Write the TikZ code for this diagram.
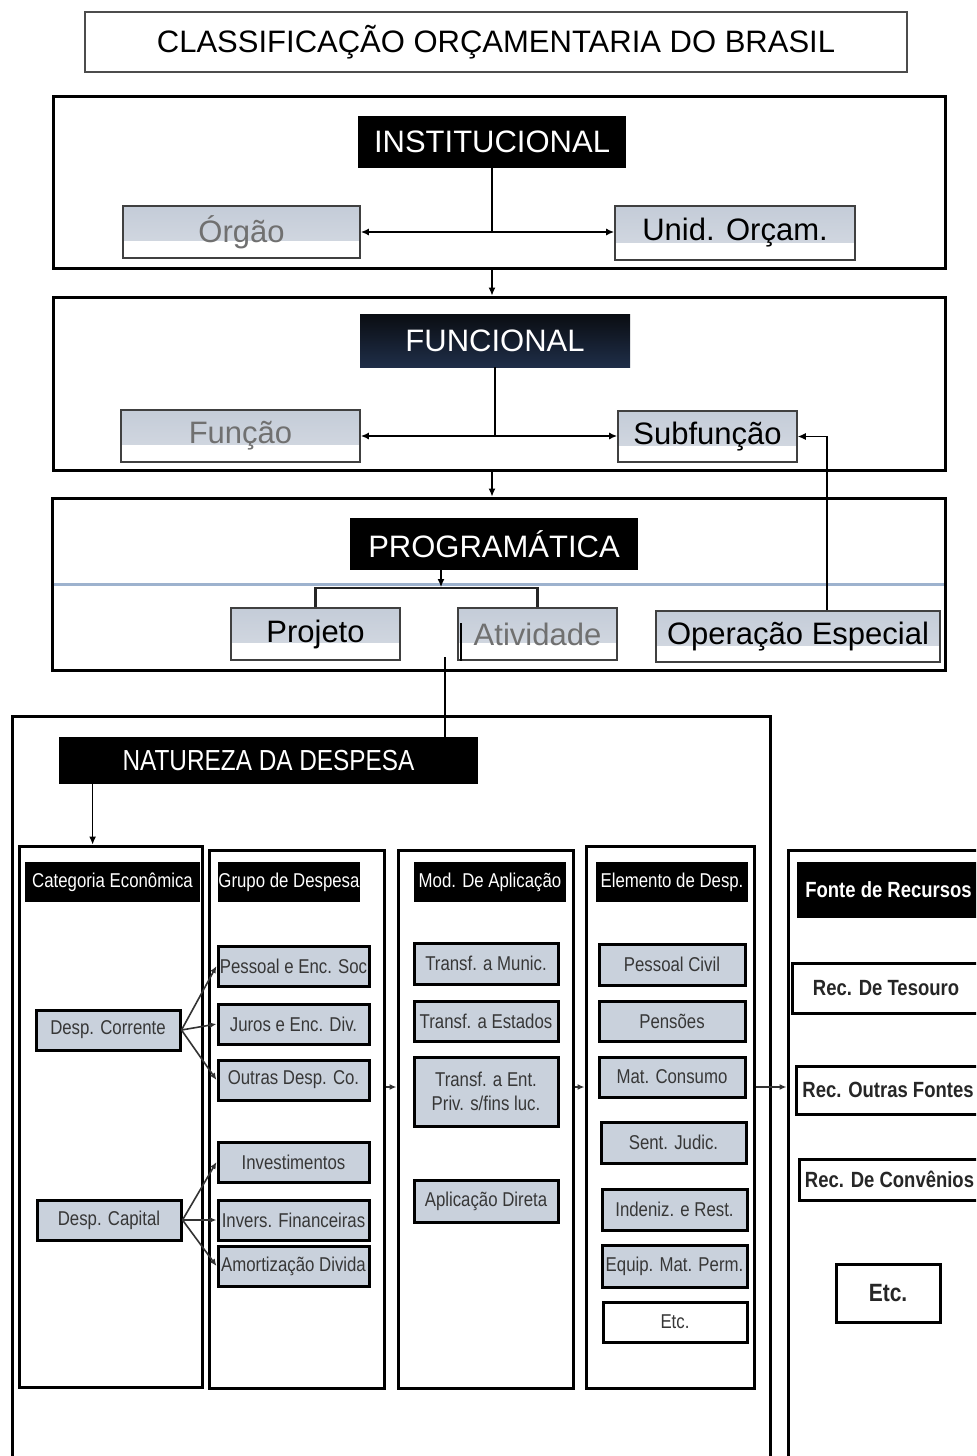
\documentclass[tikz,border=0pt]{standalone}
\usepackage{fontspec}
\setmainfont{Liberation Sans}
\newfontfamily\nf[FakeStretch=0.84]{Liberation Sans}
\usetikzlibrary{arrows.meta,calc}
\definecolor{itemfill}{RGB}{201,209,220}
\definecolor{tfillA}{RGB}{196,204,216}
\definecolor{tfillB}{RGB}{214,219,227}
\definecolor{navyA}{RGB}{10,13,18}
\definecolor{navyB}{RGB}{31,46,72}
\definecolor{bluel}{RGB}{157,178,206}
\definecolor{graytxt}{RGB}{112,112,112}
\definecolor{itemtxt}{RGB}{55,55,55}
\newcommand\bx[6]{\node[#1, inner sep=0pt, minimum width={(#4-#2)*0.5pt}, minimum height={(#5-#3)*0.5pt}] (#6) at ({(#2+#4)/2},{(#3+#5)/2})}
\tikzset{
  sec/.style={draw, line width=1.5pt},
  big/.style={font=\fontsize{15.5}{18}\selectfont},
  hdrbig/.style={fill=black, text=white, big},
  topitem/.style={fill=white, draw=black!75, line width=0.8pt, big,
    path picture={\fill[top color=tfillA, bottom color=tfillB]
      (path picture bounding box.north west) rectangle
      ($(path picture bounding box.south east)!0.33!(path picture bounding box.north east)$);}},
  colbox/.style={draw, line width=1.5pt},
  hdrsm/.style={fill=black, text=white, font=\nf\fontsize{10}{12}\selectfont},
  item/.style={fill=itemfill, draw=black, line width=1.5pt, text=itemtxt,
    align=center, font=\nf\fontsize{10}{12}\selectfont},
  fitem/.style={fill=white, draw=black, line width=1.5pt, text=black!85,
    font=\nf\bfseries\fontsize{11}{13}\selectfont},
  conn/.style={draw=black, line width=0.6pt},
  arr/.style={conn, -{Latex[length=4pt,width=3.5pt]}},
  darr/.style={draw=black, line width=1pt, {Latex[length=4pt,width=3.5pt]}-{Latex[length=4pt,width=3.5pt]}},
  farr/.style={draw=black!80, line width=0.8pt, -{Latex[length=3.5pt,width=3pt]}},
}
\begin{document}
\begin{tikzpicture}[x=0.5pt,y=-0.5pt]
\useasboundingbox (0,0) rectangle (976,1456);
\clip (0,0) rectangle (976,1456);
\fill[white] (0,0) rectangle (976,1456);

% title
\bx{draw=black!70, line width=0.75pt, big}{85}{12}{907}{72}{title} {CLASSIFICAÇÃO ORÇAMENTARIA DO BRASIL\hspace{12pt}};

% institucional
\bx{sec}{53}{96}{945}{268}{secInst} {};
\bx{hdrbig}{358}{116}{626}{168}{inst} {INSTITUCIONAL};
\bx{topitem, text=graytxt}{123}{206}{360}{258}{orgao} {Órgão};
\bx{topitem}{615}{206}{855}{260}{unid} {Unid. Orçam.};
\draw[conn] (inst.south) -- (inst.south |- orgao.east);
\draw[darr] (orgao.east) -- (orgao.east -| unid.west);

% funcional
\bx{sec}{53}{297}{945}{470}{secFunc} {};
\draw[arr] (inst.south |- secInst.south) -- (inst.south |- secFunc.north);
\bx{top color=navyA, bottom color=navyB, text=white, big}{360}{314}{630}{367}{func} {FUNCIONAL};
\bx{topitem, text=graytxt}{121}{410}{360}{462}{funcao} {Função};
\bx{topitem}{618}{411}{797}{462}{sub} {Subfunção};
\draw[conn] (func.south) -- (func.south |- funcao.east);
\draw[darr] (funcao.east) -- (funcao.east -| sub.west);

% programatica
\bx{sec}{52}{498}{945}{670}{secProg} {};
\draw[arr] (inst.south |- secFunc.south) -- (inst.south |- secProg.north);
\bx{hdrbig}{350}{518}{638}{570}{prog} {PROGRAMÁTICA};
\draw[bluel, line width=1.5pt] ($(secProg.west)+(3,0)$) -- ($(secProg.east)+(-3,0)$);
\bx{topitem}{231}{608}{400}{660}{proj} {Projeto};
\bx{topitem, text=graytxt}{458}{608}{617}{660}{ativ} {Atividade};
\bx{topitem}{656}{611}{940}{662}{oper} {Operação Especial};
\coordinate (pb) at (441,588);
\draw[arr] (prog.south -| pb) -- ($(pb)+(0,-1)$);
\draw[line width=1.4pt, draw=black!85] (proj.north) |- (pb) -| (ativ.north);
\draw[line width=0.8pt] ($(ativ.south west)+(4,0)$) -- ++(0,-38);
\coordinate (os) at ($(oper.north)+(29,0)$);
\draw[arr] (os) |- (sub.east);

% natureza
\bx{colbox}{12}{716}{770}{1480}{natOuter} {};
\bx{fill=black, text=white, font=\nf\fontsize{14.5}{17}\selectfont}{59}{737}{478}{784}{nat} {NATUREZA DA DESPESA};
\coordinate (atl) at (445,657);
\draw[conn] (atl) -- (atl |- nat.north);

\bx{colbox}{19}{846}{202}{1387}{col1} {};
\bx{colbox}{209}{850}{384}{1388}{col2} {};
\bx{colbox}{398}{850}{573}{1388}{col3} {};
\bx{colbox}{586}{846}{754}{1388}{col4} {};
\bx{colbox}{788}{850}{1000}{1480}{col5} {};

\coordinate (ns) at ($(nat.south west)+(34,0)$);
\draw[arr] (ns) -- (ns |- col1.north);

\bx{hdrsm}{25}{862}{200}{902}{h1} {Categoria Econômica};
\bx{hdrsm}{218}{862}{360}{902}{h2} {Grupo de Despesa};
\bx{hdrsm}{414}{862}{566}{902}{h3} {Mod. De Aplicação};
\bx{hdrsm}{596}{862}{748}{902}{h4} {Elemento de Desp.};
\bx{fill=black, text=white, font=\nf\bfseries\fontsize{11}{13}\selectfont}{797}{862}{980}{918}{h5} {Fonte de Recursos\hspace{4pt}};

% col1
\bx{item}{36}{1010}{180}{1050}{dc} {Desp. Corrente};
\bx{item}{37}{1200}{181}{1240}{dcap} {Desp. Capital};
% col2
\bx{item}{218}{946}{369}{986}{pes} {Pessoal e Enc. Soc};
\bx{item}{218}{1004}{369}{1044}{jur} {Juros e Enc. Div.};
\bx{item}{218}{1060}{369}{1100}{outd} {Outras Desp. Co.};
\bx{item}{218}{1142}{369}{1182}{inv} {Investimentos};
\bx{item}{218}{1200}{369}{1240}{invf} {Invers. Financeiras};
\bx{item}{218}{1246}{369}{1286}{amo} {Amortização Divida};
% col3
\bx{item}{414}{943}{558}{984}{tm} {Transf. a Munic.};
\bx{item}{414}{1001}{558}{1041}{te} {Transf. a Estados};
\bx{item}{414}{1057}{558}{1126}{tent} {Transf. a Ent.\\Priv. s/fins luc.};
\bx{item}{414}{1180}{558}{1222}{apd} {Aplicação Direta};
% col4
\bx{item}{599}{944}{745}{985}{pc} {Pessoal Civil};
\bx{item}{599}{1001}{745}{1041}{pen} {Pensões};
\bx{item}{599}{1057}{745}{1097}{mc} {Mat. Consumo};
\bx{item}{601}{1122}{746}{1163}{sj} {Sent. Judic.};
\bx{item}{602}{1189}{747}{1230}{ind} {Indeniz. e Rest.};
\bx{item}{602}{1245}{747}{1287}{eq} {Equip. Mat. Perm.};
\bx{item, fill=white}{603}{1302}{747}{1342}{etcq} {Etc.};
% col5
\bx{fitem}{792}{963}{980}{1013}{rt} {Rec. De Tesouro\hspace{6pt}};
\bx{fitem}{796}{1066}{980}{1114}{ro} {Rec. Outras Fontes\hspace{3pt}};
\bx{fitem}{799}{1159}{980}{1200}{rc} {Rec. De Convênios\hspace{3pt}};
\bx{fitem, font=\nf\bfseries\fontsize{12.5}{15}\selectfont}{836}{1264}{940}{1322}{etcf} {Etc.};

% natureza connectors
\foreach \t in {pes,jur,outd} \draw[farr] (dc.east) -- (\t.west);
\foreach \t in {inv,invf,amo} \draw[farr] (dcap.east) -- (\t.west);
\coordinate (my) at (0,1087);
\draw[farr] (col2.east |- my) -- (col3.west |- my);
\draw[farr] (col3.east |- my) -- (col4.west |- my);
\draw[farr] (col4.east |- my) -- (col5.west |- my);
\end{tikzpicture}
\end{document}
